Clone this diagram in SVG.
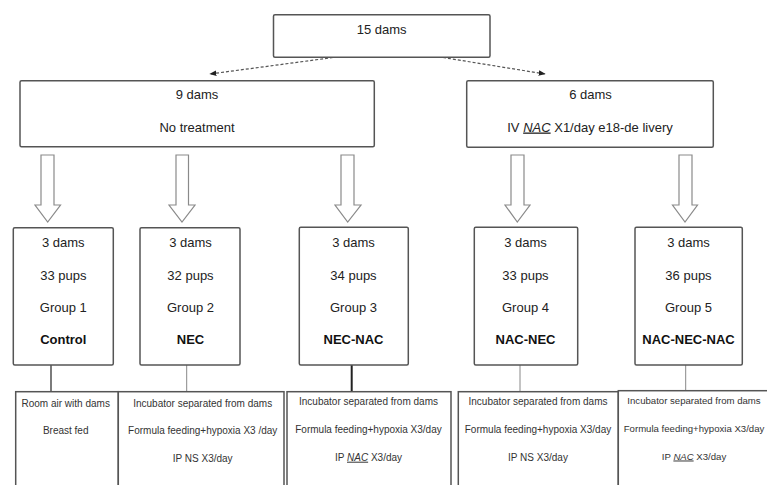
<svg xmlns="http://www.w3.org/2000/svg" width="767" height="485" viewBox="0 0 767 485">
<defs>
<style>
.box{fill:#fff;stroke:#555;stroke-width:1.5}
.t{font-family:"Liberation Sans",Arial,sans-serif;font-size:13px;fill:#222;text-anchor:middle}
.tb{font-family:"Liberation Sans",Arial,sans-serif;font-size:13px;font-weight:bold;fill:#111;text-anchor:middle}
.s{font-family:"Liberation Sans",Arial,sans-serif;font-size:10px;fill:#333;text-anchor:middle}
.s2{font-family:"Liberation Sans",Arial,sans-serif;font-size:9.6px;fill:#333;text-anchor:middle}
.nac{font-style:italic;text-decoration:underline}
.blk{fill:#fff;stroke:#8a8a8a;stroke-width:1.2;stroke-linejoin:miter}
.dash{fill:none;stroke:#555;stroke-width:1.2;stroke-dasharray:3 2}
.ln{stroke:#888;stroke-width:1}
</style>
<marker id="ah" viewBox="0 0 10 10" refX="9" refY="5" markerWidth="7" markerHeight="7" orient="auto" markerUnits="userSpaceOnUse">
<path d="M0,1 L10,5 L0,9 z" fill="#222"/>
</marker>
</defs>
<rect width="767" height="485" fill="#fff"/>

<g id="connectors">
<line class="dash" x1="333" y1="57.5" x2="210" y2="74" marker-end="url(#ah)"/>
<line class="dash" x1="443" y1="57.5" x2="545" y2="74" marker-end="url(#ah)"/>
<path class="blk" d="M41,155 H54 V205 H60.5 L47.7,222 L35,205 H41 Z"/>
<path class="blk" d="M176,155 H188.5 V205 H195 L182,222 L169,205 H176 Z"/>
<path class="blk" d="M341,155 H354 V205 H361 L347.7,222 L335,205 H341 Z"/>
<path class="blk" d="M511,155 H524 V205 H530 L517.3,222 L505,205 H511 Z"/>
<path class="blk" d="M679,155 H692 V205 H697.5 L685,222 L672.5,205 H679 Z"/>
<line x1="51" y1="365" x2="51" y2="392" stroke="#444" stroke-width="1.4"/>
<line class="ln" x1="186.7" y1="365" x2="186.7" y2="392"/>
<line x1="351.7" y1="365" x2="351.7" y2="392" stroke="#222" stroke-width="2"/>
<line class="ln" x1="520" y1="365" x2="520" y2="392"/>
<line class="ln" x1="685.7" y1="365" x2="685.7" y2="391"/>
</g>

<g id="n-root">
<rect class="box" x="273.5" y="14.8" width="216.5" height="42.5" rx="1.5"/>
<text class="t" x="381.7" y="33.5">15 dams</text>
</g>

<g id="n-notreat">
<rect class="box" x="20" y="80.7" width="354.3" height="66" rx="1.5"/>
<text class="t" x="197" y="99">9 dams</text>
<text class="t" x="197" y="131.5">No treatment</text>
</g>

<g id="n-nac">
<rect class="box" x="466.7" y="80.7" width="246.6" height="66.6" rx="1.5"/>
<text class="t" x="590.5" y="99">6 dams</text>
<text class="t" x="590" y="131.5">IV <tspan class="nac">NAC</tspan> X1/day e18-de livery</text>
</g>

<g id="n-g1">
<rect class="box" x="13.3" y="227.7" width="100" height="137.3" rx="1.5"/>
<text class="t" x="63.3" y="247">3 dams</text>
<text class="t" x="63.3" y="279.5">33 pups</text>
<text class="t" x="63.3" y="312">Group 1</text>
<text class="tb" x="63.3" y="344">Control</text>
</g>

<g id="n-g2">
<rect class="box" x="140" y="227.7" width="100" height="137.3" rx="1.5"/>
<text class="t" x="190.5" y="247">3 dams</text>
<text class="t" x="190.5" y="279.5">32 pups</text>
<text class="t" x="190.5" y="312">Group 2</text>
<text class="tb" x="190.5" y="344">NEC</text>
</g>

<g id="n-g3">
<rect class="box" x="299.3" y="227.3" width="109" height="137.7" rx="1.5"/>
<text class="t" x="353.5" y="247">3 dams</text>
<text class="t" x="353.5" y="279.5">34 pups</text>
<text class="t" x="353.5" y="312">Group 3</text>
<text class="tb" x="353.5" y="344">NEC-NAC</text>
</g>

<g id="n-g4">
<rect class="box" x="474.3" y="227.3" width="103.4" height="137.7" rx="1.5"/>
<text class="t" x="525.5" y="247">3 dams</text>
<text class="t" x="525.5" y="279.5">33 pups</text>
<text class="t" x="525.5" y="312">Group 4</text>
<text class="tb" x="525.5" y="344">NAC-NEC</text>
</g>

<g id="n-g5">
<rect class="box" x="635" y="227.3" width="107.3" height="137.7" rx="1.5"/>
<text class="t" x="688.5" y="247">3 dams</text>
<text class="t" x="688.5" y="279.5">36 pups</text>
<text class="t" x="688.5" y="312">Group 5</text>
<text class="tb" x="688.5" y="344">NAC-NEC-NAC</text>
</g>

<g id="n-b1">
<rect class="box" x="15.7" y="391.7" width="102.6" height="100"/>
<text class="s" x="65.7" y="406.7">Room air with dams</text>
<text class="s" x="65.7" y="434">Breast fed</text>
</g>

<g id="n-b2">
<rect class="box" x="118.3" y="391.7" width="165.7" height="100"/>
<text class="s" x="202.7" y="406.7">Incubator separated from dams</text>
<text class="s" x="202.7" y="434">Formula feeding+hypoxia X3 /day</text>
<text class="s" x="202.7" y="462">IP NS X3/day</text>
</g>

<g id="n-b3">
<rect class="box" x="287" y="391.7" width="164" height="100"/>
<text class="s" x="368.5" y="405.3">Incubator separated from dams</text>
<text class="s" x="368.5" y="433.3">Formula feeding+hypoxia X3/day</text>
<text class="s" x="368.5" y="460.7">IP <tspan class="nac">NAC</tspan> X3/day</text>
</g>

<g id="n-b4">
<rect class="box" x="458.3" y="391.7" width="160" height="100"/>
<text class="s" x="538" y="405.3">Incubator separated from dams</text>
<text class="s" x="538" y="433.3">Formula feeding+hypoxia X3/day</text>
<text class="s" x="538" y="460.7">IP NS X3/day</text>
</g>

<g id="n-b5">
<rect class="box" x="618.3" y="390.7" width="160" height="100"/>
<text class="s2" x="694" y="404.3">Incubator separated from dams</text>
<text class="s2" x="694" y="432.3">Formula feeding+hypoxia X3/day</text>
<text class="s2" x="694" y="459.5">IP <tspan class="nac">NAC</tspan> X3/day</text>
</g>
</svg>
